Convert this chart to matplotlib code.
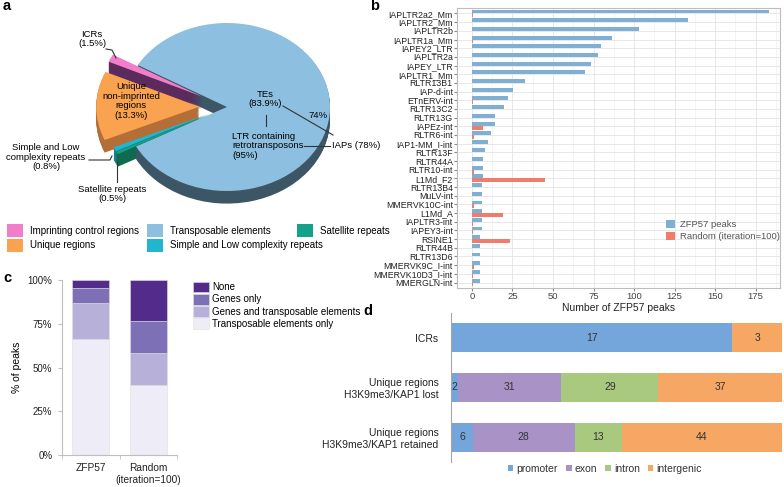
import numpy as np
import matplotlib.pyplot as plt
from matplotlib.lines import Line2D
from matplotlib.patches import Rectangle

plt.rcParams['font.family'] = ['Liberation Sans', 'DejaVu Sans']

W, H = 784, 487

# ---- panel a: peak categories (%) ----
pie_labels = ['Transposable elements', 'Imprinting control regions', 'Unique regions',
              'Simple and Low complexity repeats', 'Satellite repeats']
pie_pct = [83.9, 1.5, 13.3, 0.8, 0.5]

# ---- panel b: repeat families ----
te_names = ['IAPLTR2a2_Mm', 'IAPLTR2_Mm', 'IAPLTR2b', 'IAPLTR1a_Mm', 'IAPEY2_LTR', 'IAPLTR2a',
            'IAPEY_LTR', 'IAPLTR1_Mm', 'RLTR13B1', 'IAP-d-int', 'ETnERV-int', 'RLTR13C2',
            'RLTR13G', 'IAPEz-int', 'RLTR6-int', 'IAP1-MM_I-int', 'RLTR13F', 'RLTR44A',
            'RLTR10-int', 'L1Md_F2', 'RLTR13B4', 'MuLV-int', 'MMERVK10C-int', 'L1Md_A',
            'IAPLTR3-int', 'IAPEY3-int', 'RSINE1', 'RLTR44B', 'RLTR13D6', 'MMERVK9C_I-int',
            'MMERVK10D3_I-int', 'MMERGLN-int']
zfp57_peaks = [183, 133, 103, 86.5, 79.5, 77.5, 73.5, 69.5, 32.5, 25.5, 22.5, 19.5,
               14, 14, 12, 10, 8, 7, 7, 7, 6, 6, 6, 6, 6, 6, 5, 5, 5, 5, 5, 5]
random_peaks = [0.4, 0.2, 0.2, 0.4, 0.3, 0.2, 0.2, 0.3, 0.3, 0.2, 0.4, 0.3,
                0.2, 6.6, 1.2, 0.3, 0.2, 0.2, 1.0, 45, 0.2, 0.2, 1.3, 19,
                0.7, 0.7, 23.5, 0.2, 0.3, 1.3, 0.5, 0.5]

# ---- panel c: overlap with genes / TEs (%) ----
c_groups = ['ZFP57', 'Random\n(iteration=100)']
c_cats = ['Transposable elements only', 'Genes and transposable elements', 'Genes only', 'None']
c_te_only = [66.3, 40.0]
c_genes_te = [20.4, 18.5]
c_genes_only = [8.5, 18.2]
c_none = [4.8, 23.3]

# ---- panel d: genomic location counts ----
d_rows = ['ICRs', 'Unique regions\nH3K9me3/KAP1 lost', 'Unique regions\nH3K9me3/KAP1 retained']
d_parts = ['promoter', 'exon', 'intron', 'intergenic']
d_promoter = [17, 2, 6]
d_exon = [0, 31, 28]
d_intron = [0, 29, 13]
d_intergenic = [3, 37, 44]


def box(l, t, r, b):
    return [l / W, 1 - b / H, (r - l) / W, (b - t) / H]


def fp(x, y):
    return x / W, 1 - y / H


def fline(pts, **kw):
    xs = [p[0] / W for p in pts]
    ys = [1 - p[1] / H for p in pts]
    fig.add_artist(Line2D(xs, ys, transform=fig.transFigure, color='#333333', lw=0.8, **kw))


fig = plt.figure(figsize=(W / 100, H / 100), dpi=100)

# ================= a =================
ax_a = fig.add_axes(box(0, 0, 380, 272))
top_cols = ['#8DBFE0', '#F27DC9', '#F9A250', '#22B6CE', '#15A08A']
side_cols = ['#3D5666', '#5A2B5C', '#B46E38', '#15808F', '#0E6B50']
explode = [0, 0.27, 0.27, 0.2, 0.2]
depth = 0.15
nlay = 14
for k in range(nlay, 0, -1):
    ax_a.pie(pie_pct, colors=side_cols, startangle=-152, explode=explode,
             center=(0, -depth * k / nlay), wedgeprops=dict(linewidth=0))
ax_a.pie(pie_pct, colors=top_cols, startangle=-152, explode=explode,
         wedgeprops=dict(linewidth=0))
ax_a.set_aspect('auto')
cx, cy, rx, ry = 227, 107, 103, 84
ax_a.set_xlim(-cx / rx, (380 - cx) / rx)
ax_a.set_ylim(-(272 - cy) / ry, cy / ry)
ax_a.axis('off')

fs_a = 6.8
fig.text(*fp(92, 39), 'ICRs\n(1.5%)', ha='center', va='center', fontsize=fs_a, linespacing=1.1)
fig.text(*fp(131, 101), 'Unique\nnon-imprinted\nregions\n(13.3%)', ha='center', va='center',
         fontsize=fs_a, linespacing=1.1)
fig.text(*fp(265, 99), 'TEs\n(83.9%)', ha='center', va='center', fontsize=fs_a, linespacing=1.1)
fig.text(*fp(232, 146), 'LTR containing\nretrotransposons\n(95%)', ha='left', va='center',
         fontsize=fs_a, linespacing=1.1)
fig.text(*fp(318, 115), '74%', ha='center', va='center', fontsize=fs_a)
fig.text(*fp(332, 146), 'IAPs (78%)', ha='left', va='center', fontsize=fs_a)
fig.text(*fp(46, 157), 'Simple and Low\ncomplexity repeats\n(0.8%)', ha='center', va='center',
         fontsize=fs_a, linespacing=1.1)
fig.text(*fp(112, 194), 'Satellite repeats\n(0.5%)', ha='center', va='center',
         fontsize=fs_a, linespacing=1.1)
fline([(106, 49), (112, 50), (116, 58)])
fline([(266, 115), (266, 126)])
fline([(283, 106), (333, 135)])
fline([(304, 146), (330, 146)])
fline([(89, 160), (110, 160), (112, 156)])
fline([(117, 182), (117, 162)])

# legend of a (flow layout)
leg_pos = {'Imprinting control regions': (7, 231), 'Unique regions': (7, 245),
           'Transposable elements': (147, 231), 'Simple and Low complexity repeats': (147, 245),
           'Satellite repeats': (297, 231)}
for lab, col in zip(pie_labels, top_cols):
    x, y = leg_pos[lab]
    fig.add_artist(Rectangle(fp(x, y + 6.5), 16 / W, 13 / H, transform=fig.transFigure,
                             color=col, lw=0))
    fig.text(*fp(x + 23, y), lab, ha='left', va='center', fontsize=7.0)

# ================= b =================
ax_b = fig.add_axes(box(457, 8, 780, 288))
yb = np.arange(len(te_names))
ax_b.barh(yb - 0.225, zfp57_peaks, height=0.45, color='#7FAFD3', label='ZFP57 peaks', zorder=3)
ax_b.barh(yb + 0.225, random_peaks, height=0.45, color='#F07C6C',
          label='Random (iteration=100)', zorder=3)
ax_b.set_ylim(len(te_names) - 1 + 0.63, -0.63)
ax_b.set_xlim(-9.2, 190)
ax_b.set_yticks(yb, te_names)
ax_b.set_xticks(np.arange(0, 176, 25))
ax_b.set_xticks(np.arange(12.5, 190, 25), minor=True)
ax_b.grid(which='major', color='#E4E4E4', lw=0.6)
ax_b.grid(which='minor', axis='x', color='#F0F0F0', lw=0.5)
ax_b.set_axisbelow(True)
for s in ax_b.spines.values():
    s.set_color('#BDBDBD')
    s.set_linewidth(0.8)
ax_b.tick_params(which='major', length=2, color='#888888', labelsize=6.3, pad=1,
                 labelcolor='#222222')
ax_b.tick_params(which='minor', length=0)
ax_b.tick_params(axis='x', labelsize=6.8, labelcolor='#444444')
ax_b.set_xlabel('Number of ZFP57 peaks', fontsize=7.5, labelpad=1, color='#222222')
ax_b.legend(loc='upper left', bbox_to_anchor=fp(661, 215), bbox_transform=fig.transFigure,
            frameon=False, fontsize=6.8, handlelength=1.0, handleheight=1.0,
            handletextpad=0.5, labelspacing=0.3, borderpad=0, labelcolor='#555555')

# ================= c =================
ax_c = fig.add_axes(box(62, 280, 177, 455))
xc = np.arange(len(c_groups))
c_cols = ['#EEECF6', '#B7B0D8', '#7E70B6', '#532B8A']
bottoms = np.zeros(len(c_groups))
c_handles = []
for vals, col, lab in zip([c_te_only, c_genes_te, c_genes_only, c_none], c_cols, c_cats):
    bc = ax_c.bar(xc, vals, 0.65, bottom=bottoms, color=col, label=lab,
                  edgecolor='#E0E0E0', linewidth=0.4)
    c_handles.append(bc)
    bottoms += np.array(vals)
ax_c.set_xlim(-0.5, 1.5)
ax_c.set_ylim(0, 100)
ax_c.set_yticks([0, 25, 50, 75, 100], ['0%', '25%', '50%', '75%', '100%'])
ax_c.set_xticks(xc, c_groups)
ax_c.set_xticks([-0.5, 0.5, 1.5], minor=True)
for side in ['top', 'right']:
    ax_c.spines[side].set_visible(False)
for side in ['left', 'bottom']:
    ax_c.spines[side].set_color('#BFBFBF')
ax_c.tick_params(axis='y', length=3, color='#BFBFBF', labelsize=7, pad=4, labelcolor='#222222')
ax_c.tick_params(axis='x', which='major', length=0, labelsize=7.3, pad=6, labelcolor='#222222')
ax_c.tick_params(axis='x', which='minor', length=3, color='#BFBFBF')
ax_c.set_ylabel('% of peaks', fontsize=7.5, labelpad=4)
ax_c.legend(handles=c_handles[::-1], loc='upper left', bbox_to_anchor=fp(188, 277),
            bbox_transform=fig.transFigure, frameon=False, fontsize=7.0, handlelength=1.7,
            handleheight=1.3, handletextpad=0.3, labelspacing=0.15, borderpad=0)

# ================= d =================
ax_d = fig.add_axes(box(451, 313, 782, 462))
d_cols = ['#74A6DC', '#A892C6', '#A9C97F', '#F6A764']
d_vals = np.array([d_promoter, d_exon, d_intron, d_intergenic], dtype=float)
d_frac = d_vals / d_vals.sum(axis=0)
yd = np.arange(len(d_rows))
left = np.zeros(len(d_rows))
for k, (part, col) in enumerate(zip(d_parts, d_cols)):
    ax_d.barh(yd, d_frac[k], 0.58, left=left, color=col, label=part)
    for i in range(len(d_rows)):
        if d_vals[k, i] > 0:
            ax_d.text(left[i] + d_frac[k, i] / 2, yd[i], f'{int(d_vals[k, i])}',
                      ha='center', va='center', fontsize=7.5, color='#333333')
    left += d_frac[k]
ax_d.set_xlim(0, 1)
ax_d.set_ylim(len(d_rows) - 0.5, -0.5)
ax_d.set_yticks(yd, d_rows)
ax_d.set_xticks([])
for side in ['top', 'right', 'bottom']:
    ax_d.spines[side].set_visible(False)
ax_d.spines['left'].set_color('#A6A6A6')
ax_d.tick_params(axis='y', length=0, labelsize=7.5, pad=9, labelcolor='#222222')
fig.legend(*ax_d.get_legend_handles_labels(), loc='center', bbox_to_anchor=fp(605, 469),
           ncol=4, frameon=False, fontsize=7.5, handlelength=0.5, handleheight=0.5,
           handletextpad=0.3, columnspacing=0.8, labelcolor='#333333')

# panel letters
for lab, x, y in [('a', 3, 10), ('b', 370, 10), ('c', 3, 282), ('d', 363, 315)]:
    fig.text(*fp(x, y), lab, fontsize=10.5, fontweight='bold', ha='left', va='baseline')

fig.savefig('out.png', dpi=100)
